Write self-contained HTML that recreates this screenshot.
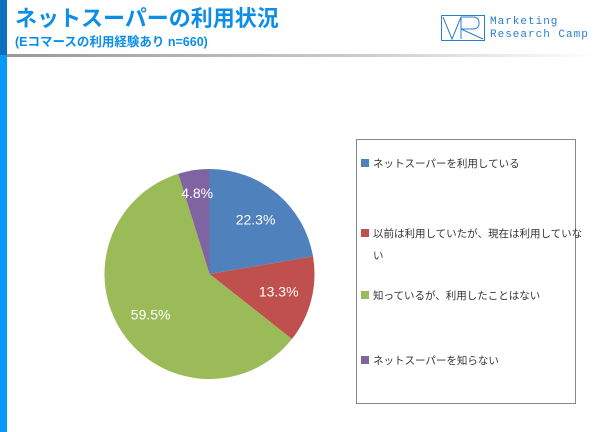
<!DOCTYPE html>
<html><head><meta charset="utf-8"><style>
body{margin:0;width:600px;height:432px;background:#fff;position:relative;overflow:hidden;font-family:"Liberation Sans","Noto Sans CJK JP",sans-serif}
.abs{position:absolute}
.leg{position:absolute;left:361px;font-size:10.5px;color:#333;white-space:nowrap;line-height:14px}
.sw{display:inline-block;width:8px;height:8px;margin-right:4px;vertical-align:0px}
</style></head><body>
<div class="abs" style="left:0;top:0;width:7px;height:55px;background:#0b6fbe"></div>
<div class="abs" style="left:0;top:55px;width:7px;height:377px;background:#0499f5"></div>
<div class="abs" style="left:7px;top:54px;width:590px;height:3px;background:linear-gradient(90deg,#999,#ccc 60%,#fff)"></div>
<div class="abs" style="left:15px;top:6px;font-size:22px;line-height:26px;font-weight:bold;color:#0c8ee8;white-space:nowrap">ネットスーパーの利用状況</div>
<div class="abs" style="left:15px;top:34px;font-size:12.5px;line-height:16px;font-weight:bold;color:#0c8ee8;white-space:nowrap">(Eコマースの利用経験あり n=660)</div>
<svg class="abs" style="left:441px;top:15px" width="44" height="26" viewBox="0 0 44 26"><g fill="none" stroke="#2a7fd0" stroke-width="1"><rect x="0.5" y="0.5" width="43" height="25"/><path d="M2 2 L11 24 L20 2 M20 2 V24 M20 2 H32 Q38 2 38 8 Q38 14 32 14 H20 L42 24"/></g></svg>
<div class="abs" style="left:490px;top:16px;font-size:11px;line-height:13px;color:#2a7fd0;letter-spacing:1px;font-family:'Liberation Mono',monospace">Marketing<br>Research Camp</div>
<svg class="abs" id="pie" style="left:0;top:0" width="600" height="432"></svg>
<div class="abs" style="left:356px;top:139px;width:218px;height:263px;border:1px solid #888"></div>
<div class="leg" style="top:157px"><span class="sw" style="background:#4f81bd"></span>ネットスーパーを利用している</div>
<div class="leg" style="top:223px;line-height:22px"><span class="sw" style="background:#c0504d"></span>以前は利用していたが、現在は利用していな<br><span style="margin-left:12px">い</span></div>
<div class="leg" style="top:289px"><span class="sw" style="background:#9bbb59"></span>知っているが、利用したことはない</div>
<div class="leg" style="top:354px"><span class="sw" style="background:#8064a2"></span>ネットスーパーを知らない</div>
<script>
const categories=["ネットスーパーを利用している","以前は利用していたが、現在は利用していない","知っているが、利用したことはない","ネットスーパーを知らない"];
const values=[22.3,13.3,59.5,4.8];
const colors=["#4f81bd","#c0504d","#9bbb59","#8064a2"];
const cx=209.5,cy=274,r=105;
const svg=document.getElementById('pie');const NS="http://www.w3.org/2000/svg";
const total=values.reduce((a,b)=>a+b,0);
let a=0;
values.forEach((v,i)=>{
 const a0=a/total*2*Math.PI,a1=(a+v)/total*2*Math.PI;a+=v;
 const p=t=>[cx+r*Math.sin(t),cy-r*Math.cos(t)];
 const [x0,y0]=p(a0),[x1,y1]=p(a1);
 const path=document.createElementNS(NS,'path');
 path.setAttribute('d',`M${cx},${cy}L${x0},${y0}A${r},${r} 0 ${a1-a0>Math.PI?1:0} 1 ${x1},${y1}Z`);
 path.setAttribute('fill',colors[i]);
 
 
 svg.appendChild(path);
 const m=(a0+a1)/2,lr=i===3?r*0.78:r*0.68;
 const t=document.createElementNS(NS,'text');
 t.setAttribute('x',cx+lr*Math.sin(m));t.setAttribute('y',cy-lr*Math.cos(m)+5);
 t.setAttribute('text-anchor','middle');t.setAttribute('fill','#fff');t.setAttribute('font-size','14');
 t.setAttribute('font-family','Liberation Sans, sans-serif');
 t.textContent=v.toFixed(1)+'%';
 
 
 svg.appendChild(t);
});
</script>
</body></html>
